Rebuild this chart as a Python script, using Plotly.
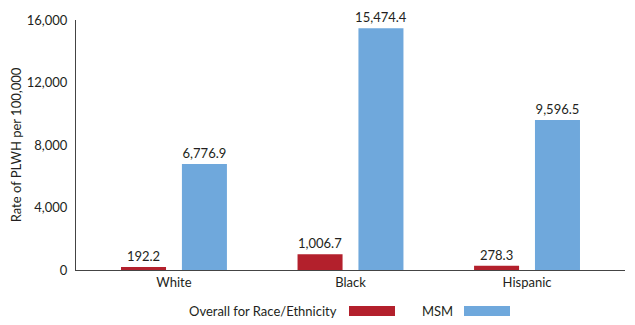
import plotly.graph_objects as go

categories = ["White", "Black", "Hispanic"]
overall = [192.2, 1006.7, 278.3]
msm = [6776.9, 15474.4, 9596.5]
overall_labels = ["192.2", "1,006.7", "278.3"]
msm_labels = ["6,776.9", "15,474.4", "9,596.5"]
y_ticks = [0, 4000, 8000, 12000, 16000]
y_tick_text = ["0", "4,000", "8,000", "12,000", "16,000"]

RED = "#B3202C"
BLUE = "#6FA8DC"
TXT = "#231F20"
FONT = "Lato"

fig = go.Figure()
fig.add_trace(go.Bar(
    x=categories, y=overall, name="Overall for Race/Ethnicity",
    marker=dict(color=RED, line=dict(width=0)),
    width=0.255, offset=-0.30,
    text=overall_labels, textposition="outside", cliponaxis=False,
    constraintext="none",
    textfont=dict(family=FONT, size=13, color=TXT),
))
fig.add_trace(go.Bar(
    x=categories, y=msm, name="MSM",
    marker=dict(color=BLUE, line=dict(width=0)),
    width=0.255, offset=0.045,
    text=msm_labels, textposition="outside", cliponaxis=False,
    constraintext="none",
    textfont=dict(family=FONT, size=13, color=TXT),
))

L, R, T, B = 76, 10, 20, 55
W, H = 635, 325
pw = W - L - R
ph = H - T - B

def px(x):
    return (x - L) / pw

def py(y):
    return (H - B - y) / ph

# custom legend: text then swatch
legend_items = [("Overall for Race/Ethnicity", RED, 339, 349), ("MSM", BLUE, 455, 464)]
for label, color, text_right, sw_left in legend_items:
    fig.add_annotation(
        text=label, xref="paper", yref="paper", x=px(text_right), y=py(311),
        xanchor="right", yanchor="middle", showarrow=False,
        font=dict(family=FONT, size=13, color=TXT),
    )
    fig.add_shape(
        type="rect", xref="paper", yref="paper",
        x0=px(sw_left), x1=px(sw_left + 46), y0=py(306), y1=py(316),
        fillcolor=color, line=dict(width=0),
    )

fig.update_layout(
    width=W, height=H,
    margin=dict(l=L, r=R, t=T, b=B),
    paper_bgcolor="white", plot_bgcolor="white",
    barmode="overlay",
    showlegend=False,
    font=dict(family=FONT, size=13, color=TXT),
    xaxis=dict(
        range=[-0.555, 2.555], showgrid=False, zeroline=False,
        showline=True, linecolor="#444", linewidth=1, ticks="",
        tickfont=dict(family=FONT, size=13, color=TXT),
    ),
    yaxis=dict(
        range=[0, 16000], tickvals=y_ticks, ticktext=y_tick_text,
        showgrid=False, zeroline=False, showline=True, linecolor="#444",
        linewidth=1, ticks="", ticklabelstandoff=5,
        tickfont=dict(family=FONT, size=13, color=TXT),
        title=dict(text="Rate of PLWH per 100,000", standoff=2,
                   font=dict(family=FONT, size=13, color=TXT)),
    ),
)

fig.write_html("out.html")
